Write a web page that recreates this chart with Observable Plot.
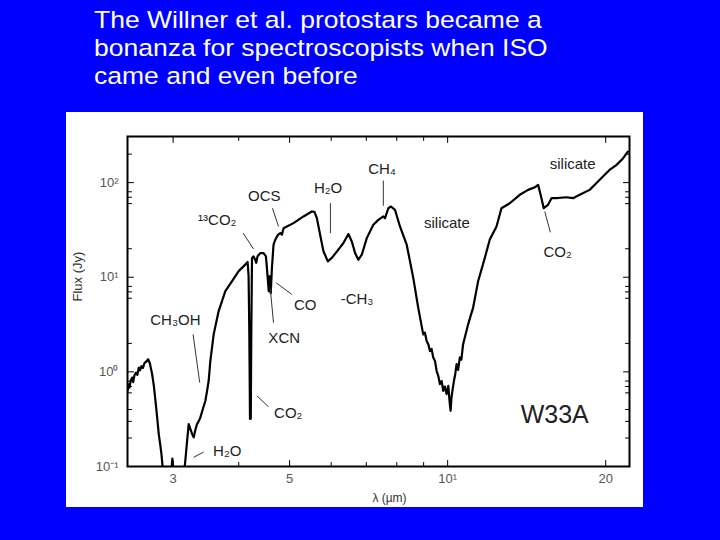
<!DOCTYPE html>
<html>
<head>
<meta charset="utf-8">
<script src="https://cdn.jsdelivr.net/npm/d3@7"></script>
<script src="https://cdn.jsdelivr.net/npm/@observablehq/plot@0.6"></script>
<style>
  html, body { margin: 0; padding: 0; }
  body { width: 720px; height: 540px; background: #0000ff; overflow: hidden; position: relative;
         font-family: "Liberation Sans", Arial, Helvetica, sans-serif; }
  #title { position: absolute; left: 94px; top: 6px; color: #ffffff; font-size: 26.5px; line-height: 32.2px;
           transform: scaleY(0.88); transform-origin: 0 0; white-space: nowrap; }
  #chart { position: absolute; left: 66px; top: 112px; }
</style>
</head>
<body>
<div id="title">The Willner et al. protostars became a<br>bonanza for spectroscopists when ISO<br>came and even before</div>
<div id="chart"></div>
<script>
// ---- data ----
const wavelength = [2.456, 2.468, 2.477, 2.49, 2.506, 2.518, 2.532, 2.55, 2.565, 2.58, 2.595, 2.611, 2.628, 2.646, 2.665, 2.689, 2.71, 2.736, 2.756, 2.776, 2.797, 2.817, 2.835, 2.85, 2.869, 2.912, 2.95, 2.977, 2.99, 3.003, 3.05, 3.097, 3.156, 3.175, 3.19, 3.212, 3.235, 3.26, 3.283, 3.305, 3.332, 3.355, 3.381, 3.42, 3.456, 3.48, 3.506, 3.532, 3.584, 3.663, 3.772, 3.885, 3.999, 4.117, 4.159, 4.177, 4.19, 4.203, 4.217, 4.227, 4.24, 4.269, 4.3, 4.319, 4.344, 4.396, 4.46, 4.507, 4.527, 4.547, 4.563, 4.583, 4.603, 4.627, 4.66, 4.695, 4.751, 4.799, 4.835, 4.869, 4.941, 5.086, 5.314, 5.512, 5.576, 5.635, 5.716, 5.8, 5.913, 6.017, 6.193, 6.331, 6.471, 6.568, 6.664, 6.76, 6.862, 7.014, 7.218, 7.379, 7.542, 7.598, 7.709, 7.8, 7.938, 8.113, 8.356, 8.6, 8.79, 8.984, 9.05, 9.12, 9.19, 9.253, 9.32, 9.387, 9.46, 9.529, 9.6, 9.667, 9.74, 9.807, 9.88, 9.954, 10.03, 10.08, 10.13, 10.17, 10.22, 10.28, 10.34, 10.4, 10.47, 10.55, 10.62, 10.7, 10.82, 10.94, 11.06, 11.18, 11.43, 11.77, 12.03, 12.39, 12.66, 13.13, 13.72, 14.23, 14.66, 14.87, 15.09, 15.24, 15.53, 15.77, 16.11, 16.84, 17.33, 17.84, 18.64, 19.19, 19.76, 20.34, 20.95, 21.57, 22.04];
const flux = [0.63, 0.74, 0.68, 0.80, 0.87, 0.78, 0.92, 0.98, 0.93, 1.11, 1.04, 1.15, 1.10, 1.24, 1.28, 1.36, 1.22, 0.95, 0.72, 0.50, 0.33, 0.22, 0.17, 0.136, 0.091, 0.07, 0.07, 0.09, 0.121, 0.086, 0.07, 0.07, 0.098, 0.14, 0.188, 0.281, 0.25, 0.221, 0.203, 0.24, 0.281, 0.30, 0.33, 0.41, 0.495, 0.62, 0.80, 1.31, 2.49, 4.39, 7.12, 9.08, 11.6, 13.6, 14.5, 10.3, 2.7, 0.318, 0.32, 2.7, 16.0, 16.6, 15.3, 14.2, 16.6, 18.0, 18.0, 16.6, 12.5, 9.08, 7.12, 10.3, 6.79, 12.5, 22.1, 24.9, 28.1, 29.3, 28.1, 33.0, 34.4, 37.3, 43.9, 49.5, 49.0, 42.1, 28.1, 18.8, 14.7, 16.0, 19.6, 23.0, 28.6, 23.9, 18.0, 15.3, 17.3, 25.9, 35.9, 40.4, 43.9, 42.1, 53.6, 55.9, 51.6, 34.4, 22.1, 9.84, 4.75, 2.49, 2.6, 2.12, 1.95, 1.66, 1.75, 1.42, 1.30, 1.02, 0.90, 0.743, 0.80, 0.631, 0.70, 0.582, 0.713, 0.50, 0.388, 0.536, 0.65, 0.804, 0.95, 1.21, 1.05, 1.42, 1.35, 1.95, 2.5, 3.18, 3.9, 4.75, 9.08, 16.0, 25.0, 34.4, 53.6, 60.5, 74.3, 83.8, 89.3, 94.6, 68.4, 53.6, 58.2, 68.4, 68.4, 70.0, 68.4, 74.3, 83.8, 98.4, 116, 136, 153, 180, 212];

const xDomain = [2.456, 22.2];
const yDomain = [0.1, 307];

const xMajorTicks = [3, 5, 10, 20];
const xMajorLabels = ["3", "5", "10¹", "20"];
const xMinorTicks = [4, 6, 7, 8, 9];
const yMajorTicks = [0.1, 1, 10, 100];
const yMajorLabels = ["10⁻¹", "10⁰", "10¹", "10²"];
const yMinorTicks = [0.2, 0.3, 0.4, 0.6, 0.7, 0.8, 2, 6, 7, 8, 20, 60, 70, 80, 200];

const xTitle = "λ (µm)";
const yTitle = "Flux (Jy)";

// annotation labels
const labelText = ["OCS", "¹³CO₂", "H₂O", "CH₄", "silicate", "silicate", "CO₂", "CO", "-CH₃", "XCN", "CO₂", "CH₃OH", "H₂O"];
const labelX    = [4.474, 3.641, 5.920, 7.499, 9.968, 17.30, 16.20, 5.354, 6.722, 4.883, 4.970, 3.030, 3.804];
const labelY    = [71.3, 39.8, 86.4, 140, 37.0, 155, 18.3, 5.07, 5.86, 2.28, 0.370, 3.53, 0.144];
const sourceName = "W33A";
const sourceX = 15.99, sourceY = 0.352;

// leader lines
const leaderX1 = [4.638, 4.076, 5.980, 7.542, 15.31, 4.716, 4.593, 4.333, 3.274, 3.282];
const leaderY1 = [53.6, 29.3, 60.5, 105, 49.5, 8.71, 7.71, 0.558, 2.49, 0.125];
const leaderX2 = [4.763, 4.268, 5.980, 7.542, 15.69, 5.050, 4.659, 4.558, 3.371, 3.430];
const leaderY2 = [34.4, 19.9, 29.3, 56.9, 29.8, 6.58, 3.30, 0.428, 0.771, 0.142];

// ---- build tables ----
const spectrum = wavelength.map((w, i) => ({w, f: flux[i]}));
const labels = labelText.map((t, i) => ({t, x: labelX[i], y: labelY[i]}));
const leaders = leaderX1.map((x1, i) => ({x1, y1: leaderY1[i], x2: leaderX2[i], y2: leaderY2[i]}));

const tickShape = { draw(ctx, l) { ctx.moveTo(0, 0); ctx.lineTo(0, -l); } };
function ticks(data, channel, frameAnchor, rotate, length) {
  return Plot.vector(data, {[channel]: d => d, frameAnchor, rotate, length, anchor: "start",
    shape: tickShape, stroke: "black", strokeWidth: 1});
}

const chart = Plot.plot({
  width: 577, height: 395,
  marginLeft: 61, marginRight: 14, marginTop: 24, marginBottom: 41,
  style: {background: "#ffffff", fontFamily: "'Liberation Sans', Arial, Helvetica, sans-serif", overflow: "visible"},
  x: {type: "log", domain: xDomain, axis: null},
  y: {type: "log", domain: yDomain, axis: null},
  marks: [
    Plot.line(spectrum, {x: "w", y: "f", stroke: "black", strokeWidth: 2.2, clip: true, strokeLinejoin: "round"}),
    Plot.link(leaders, {x1: "x1", y1: "y1", x2: "x2", y2: "y2", stroke: "#333", strokeWidth: 1}),
    Plot.text(labels, {x: "x", y: "y", text: "t", fontSize: 15, fill: "#222"}),
    Plot.text([sourceName], {x: sourceX, y: sourceY, text: d => d, fontSize: 25, fill: "#222"}),
    Plot.frame({stroke: "black", strokeWidth: 2}),
    ticks(xMajorTicks, "x", "bottom", 0, 6),
    ticks(xMinorTicks, "x", "bottom", 0, 4),
    ticks(xMajorTicks, "x", "top", 180, 6),
    ticks(xMinorTicks, "x", "top", 180, 4),
    ticks(yMajorTicks, "y", "left", 90, 6),
    ticks(yMinorTicks, "y", "left", 90, 4),
    ticks(yMajorTicks, "y", "right", -90, 6),
    ticks(yMinorTicks, "y", "right", -90, 4),
    Plot.text(xMajorTicks, {x: d => d, frameAnchor: "bottom", dy: 16, text: (d, i) => xMajorLabels[i], fontSize: 13, fill: "#555"}),
    Plot.text(yMajorTicks, {y: d => d, frameAnchor: "left", dx: -9, textAnchor: "end", text: (d, i) => yMajorLabels[i], fontSize: 13, fill: "#555"}),
    Plot.text([yTitle], {frameAnchor: "left", dx: -49.5, rotate: -90, text: d => d, fontSize: 13, fill: "#333"}),
    Plot.text([xTitle], {frameAnchor: "bottom", dx: 11, dy: 35, text: d => d, fontSize: 12, fill: "#333"})
  ]
});
document.getElementById("chart").appendChild(chart);
</script>
</body>
</html>
